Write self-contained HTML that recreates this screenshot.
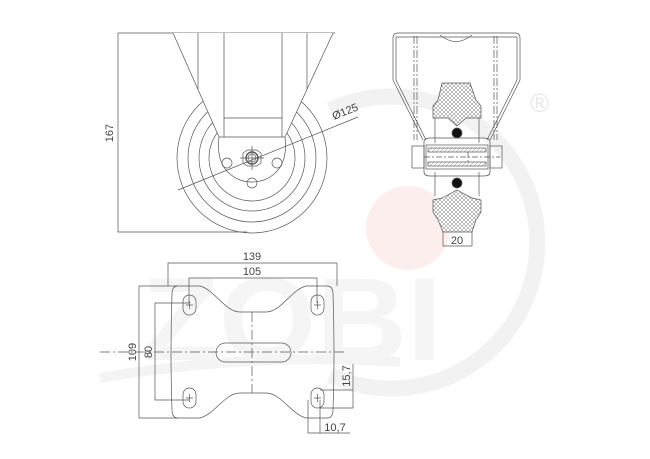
<!DOCTYPE html>
<html><head><meta charset="utf-8"><style>
html,body{margin:0;padding:0;background:#fff;}
svg{display:block;}
text{font-family:"Liberation Sans","DejaVu Sans",sans-serif;fill:#444;}
</style></head><body>
<svg width="650" height="459" viewBox="0 0 650 459" xmlns="http://www.w3.org/2000/svg">
<defs>
<pattern id="h" width="4" height="4" patternUnits="userSpaceOnUse">
<rect width="4" height="4" fill="#fff"/>
<path d="M0 0L4 4M4 0L0 4" stroke="#777" stroke-width="0.5"/>
</pattern>
<pattern id="d" width="4" height="4" patternUnits="userSpaceOnUse">
<path d="M0 4L4 0" stroke="#777" stroke-width="0.5"/>
</pattern>
</defs>
<!-- watermark -->
<path d="M330 110 A146 146 0 1 1 330 375" fill="none" stroke="#f2f2f2" stroke-width="16"/>
<path d="M100 378 Q250 352 400 362" fill="none" stroke="#f4f4f4" stroke-width="10"/>
<circle cx="408" cy="228" r="42" fill="#fdeeee"/>
<text x="530" y="112" font-size="26" style="fill:#e8e8e8">®</text>
<text x="142" y="360" font-size="118" font-weight="bold" style="fill:#f5f5f5" textLength="300" lengthAdjust="spacingAndGlyphs">ZOBI</text>

<g fill="none" stroke="#555" stroke-width="0.7">
<!-- left view -->
<path d="M118 33H335M118 33V232H247"/>
<circle cx="252" cy="158" r="75"/>
<circle cx="252" cy="158" r="64"/>
<circle cx="252" cy="158" r="53"/>
<circle cx="252" cy="158" r="43"/>
<path d="M173 33L219 137 Q215 170 240 180 Q252 184 264 180 Q289 170 285 137 L333 33Z" fill="#fff" stroke="none"/>
<path d="M173 33L219 137M333 33L285 137M219 137H285"/>
<path d="M224 33V137M282 33V137M224 118H282M198 33V89M307 33V89"/>
<path d="M219 137 Q215 170 240 180 Q252 184 264 180 Q289 170 285 137"/>
<circle cx="227" cy="163" r="5"/><circle cx="277" cy="163" r="5"/>
<path d="M243 153L247.5 150L256.5 150L261 153L261 163L256.5 166L247.5 166L243 163Z"/>
<circle cx="252" cy="158" r="6" stroke-width="1.4"/>
<circle cx="252" cy="158" r="4"/>
<circle cx="252" cy="183" r="5"/>
<path d="M240 158H264M252 146V170"/>
<path d="M178 190L358 117"/>
<!-- right view -->
<path d="M393 80V38Q393 33 398 33H515Q520 33 520 38V80L490 140"/>
<path d="M396 80V37H517V80L487 140"/>
<path d="M393 80L423 140M396 80L426 140"/>
<path d="M440 35Q456 48 472 35"/>
<path d="M414 36V140M417 36V140M497 36V140M494 36V140" stroke-dasharray="8 2 2 2"/>
<path d="M442 83L470 83L476 100L481 106L481 118L466 118L457 126L448 118L433 118L433 106L438 100Z" fill="url(#h)"/>
<path d="M435 118V143M479 118V143M435 172V196M479 172V196"/>
<circle cx="457" cy="133" r="5" fill="#111"/>
<circle cx="457" cy="183" r="5" fill="#111"/>
<rect x="412" y="146" width="12" height="22"/>
<rect x="490" y="146" width="12" height="22"/>
<path d="M424 142Q424 138 430 138H484Q490 138 490 142V172Q490 176 484 176H430Q424 176 424 172Z"/>
<rect x="426" y="145" width="62" height="24"/>
<rect x="428" y="148" width="58" height="4" fill="url(#d)"/>
<rect x="428" y="162" width="58" height="4" fill="url(#d)"/>
<path d="M468 152V162M424 157H500" stroke-dasharray="6 2 2 2"/>
<path d="M442 198L457 190L472 198L481 200L481 212L476 220L472 232L443 232L438 220L433 212L433 200Z" fill="url(#h)"/>
<path d="M443 232V246H472V232"/>
<!-- bottom plate -->
<path d="M178 286H200C215 290 225 312 240 312H266C281 312 291 290 306 286H327Q333 286 333 294Q335 352 333 410Q333 418 327 418H306C291 414 281 393 266 393H240C225 393 215 414 200 418H178Q172 418 172 410Q170 352 172 294Q172 286 178 286Z"/>
<rect x="183" y="295" width="13" height="20" rx="6.5"/>
<rect x="311" y="295" width="13" height="20" rx="6.5"/>
<rect x="183" y="388" width="13" height="20" rx="6.5"/>
<rect x="311" y="388" width="13" height="20" rx="6.5"/>
<path d="M186 305H193M189.5 301V309M314 305H321M317.5 301V309M186 398H193M189.5 394V402M314 398H321M317.5 394V402"/>
<rect x="216" y="343" width="75" height="19" rx="9.5"/>
<path d="M100 352H345M252 312V393" stroke-dasharray="10 3 2 3"/>
<path d="M168 286V263H337V286"/>
<path d="M189 303V278H317V303"/>
<path d="M178 286H139V418H178"/>
<path d="M189 303H155V400H189"/>
<path d="M320 390H353V408H320M353 408V364"/>
<path d="M308 400V433H350M320 400V433"/>
</g>
<g font-size="11">
<text x="113" y="133" transform="rotate(-90 113 133)" text-anchor="middle">167</text>
<text x="334" y="120" transform="rotate(-22 334 120)">Ø125</text>
<text x="457" y="244" text-anchor="middle">20</text>
<text x="252" y="260" text-anchor="middle">139</text>
<text x="252" y="275" text-anchor="middle">105</text>
<text x="136" y="352" transform="rotate(-90 136 352)" text-anchor="middle">109</text>
<text x="152" y="352" transform="rotate(-90 152 352)" text-anchor="middle">80</text>
<text x="350" y="376" transform="rotate(-90 350 376)" text-anchor="middle">15,7</text>
<text x="335" y="431" text-anchor="middle">10,7</text>
</g>
</svg>
</body></html>
